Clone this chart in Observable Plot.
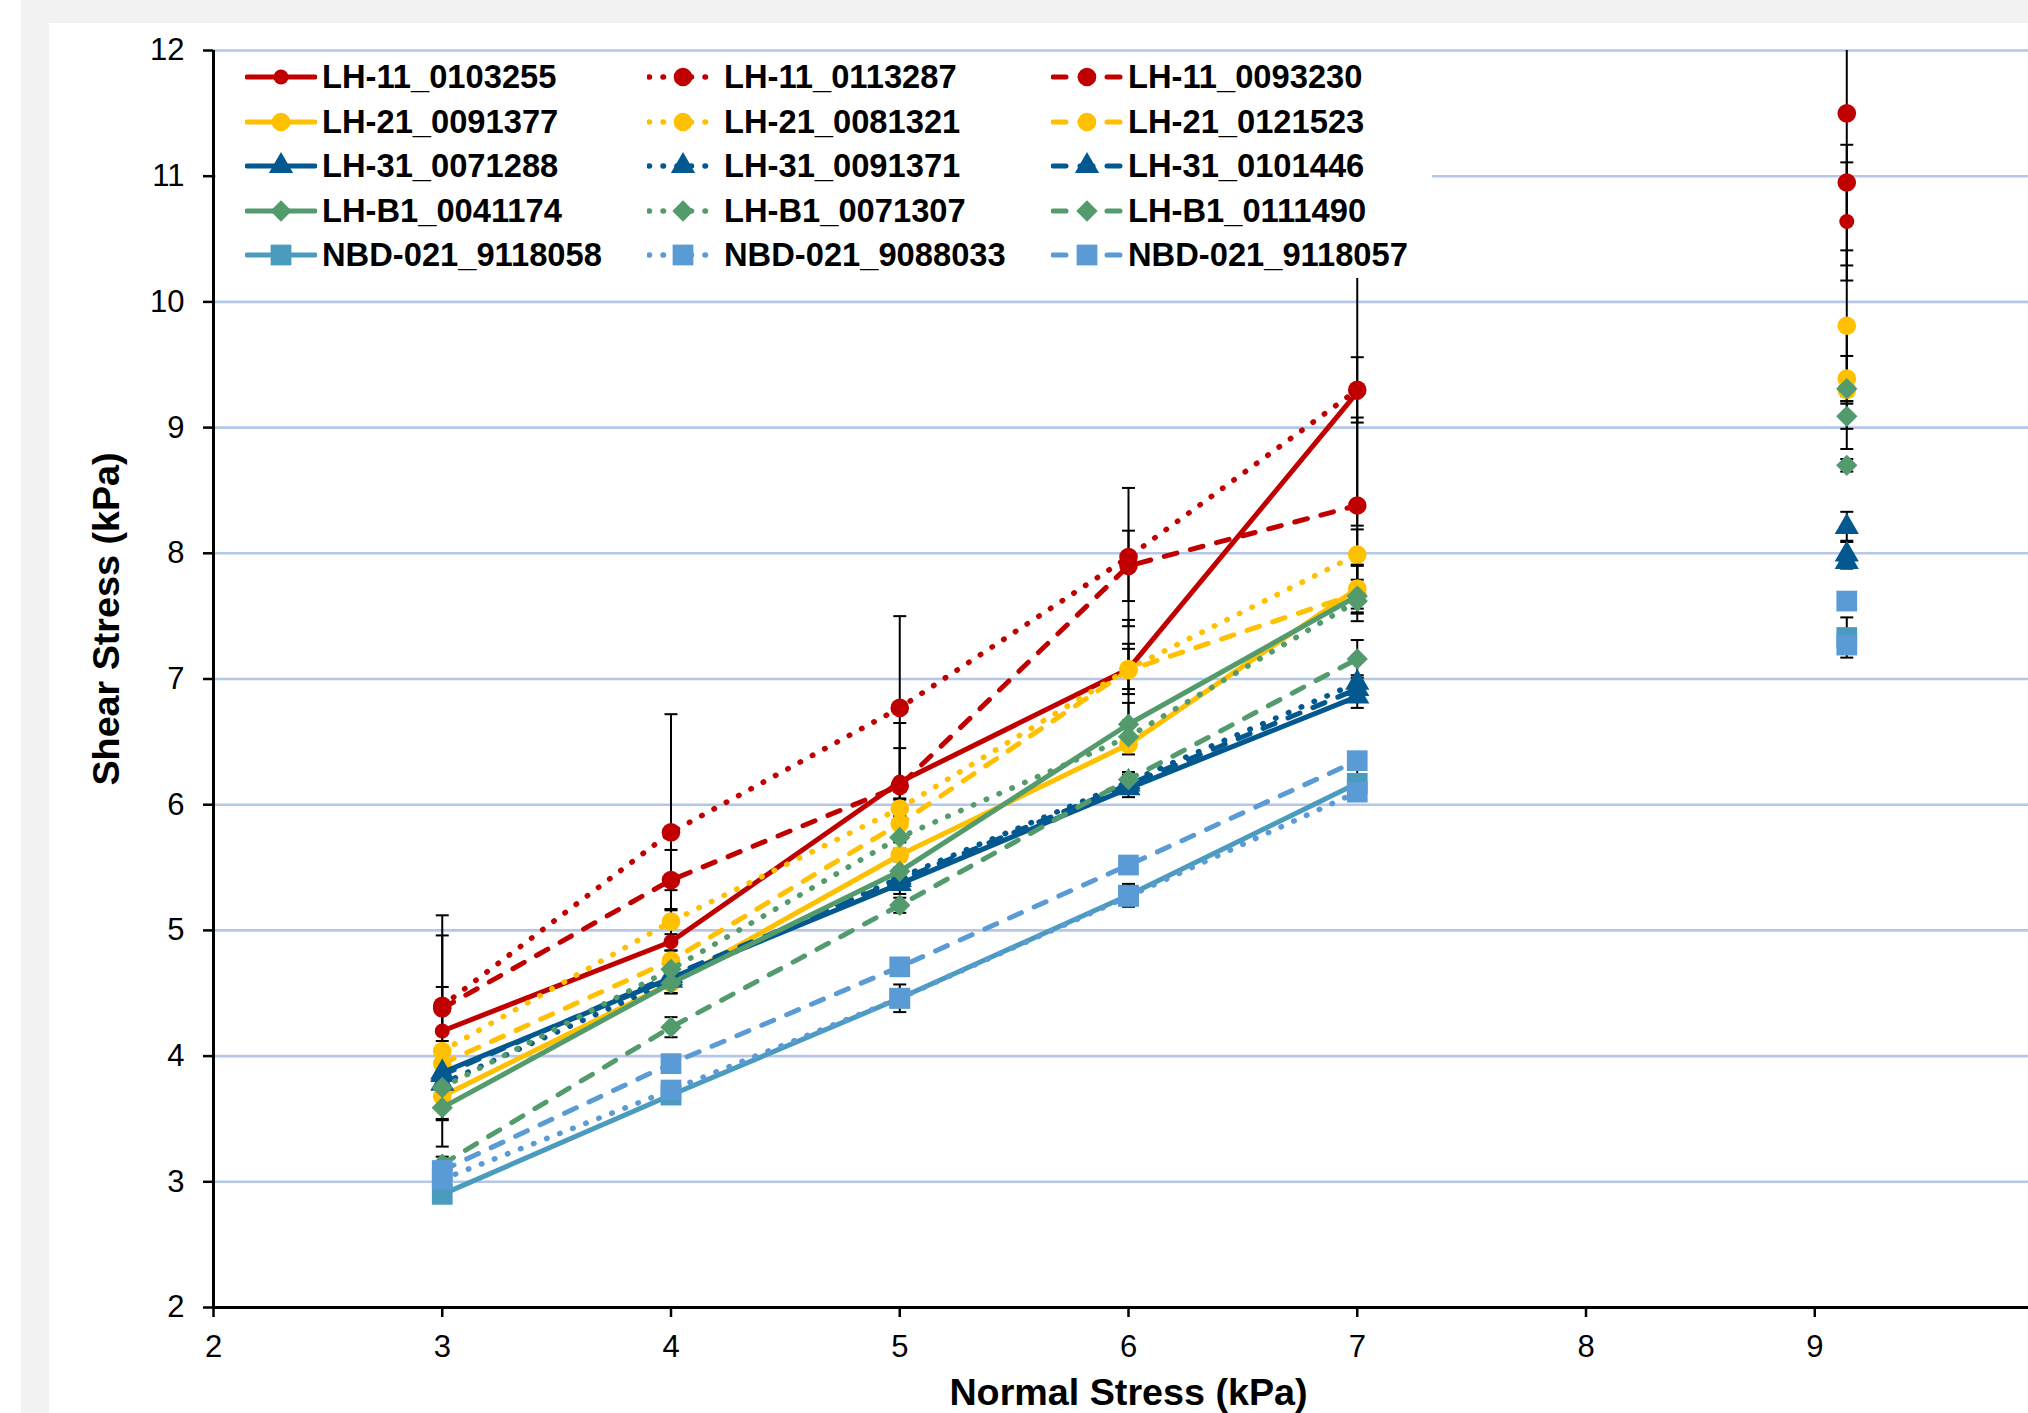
<!DOCTYPE html>
<html><head><meta charset="utf-8">
<script src="https://cdn.jsdelivr.net/npm/d3@7"></script>
<script src="https://cdn.jsdelivr.net/npm/@observablehq/plot@0.6"></script>
<style>
html,body{margin:0;padding:0;background:#fff;width:2028px;height:1413px;overflow:hidden;}
#gray{position:absolute;left:21px;top:0;width:2007px;height:1413px;background:#f2f2f2;}
#chart{position:absolute;left:49px;top:23px;width:1979px;height:1390px;background:#fff;overflow:hidden;}
#chart svg{max-width:none !important;}
#legend{position:absolute;left:216px;top:53px;width:1216px;height:225px;background:#fff;font-family:"Liberation Sans",Arial,sans-serif;font-weight:bold;font-size:32.7px;color:#000;}
.item{position:absolute;display:flex;align-items:center;height:40px;white-space:nowrap;}
.item svg{flex:none;margin-right:5px;}
</style></head>
<body>
<div id="gray"></div>
<div id="chart"></div>
<div id="legend"></div>
<script>
// ---------------- data ----------------
const xValues = [3, 4, 5, 6, 7, 9.14];
const xTicks = [2, 3, 4, 5, 6, 7, 8, 9];
const yTicks = [2, 3, 4, 5, 6, 7, 8, 9, 10, 11, 12];
const gridTicks = [3, 4, 5, 6, 7, 8, 9, 10, 11, 12];

const seriesNames = [
  "LH-11_0103255", "LH-11_0113287", "LH-11_0093230",
  "LH-21_0091377", "LH-21_0081321", "LH-21_0121523",
  "LH-31_0071288", "LH-31_0091371", "LH-31_0101446",
  "LH-B1_0041174", "LH-B1_0071307", "LH-B1_0111490",
  "NBD-021_9118058", "NBD-021_9088033", "NBD-021_9118057"
];

// shear stress (kPa) at each normal stress in xValues
const LH11_0103255 = [4.20, 4.91, 6.18, 7.08, 9.28, 10.64];
const LH11_0113287 = [4.40, 5.78, 6.77, 7.97, 9.30, 11.50];
const LH11_0093230 = [4.38, 5.40, 6.15, 7.90, 8.38, 10.95];
const LH21_0091377 = [3.68, 4.58, 5.60, 6.48, 7.72, 9.39];
const LH21_0081321 = [4.04, 5.07, 5.97, 7.08, 7.99, 9.81];
const LH21_0121523 = [3.94, 4.76, 5.85, 7.07, 7.68, 9.30];
const LH31_0071288 = [3.87, 4.62, 5.37, 6.13, 6.86, 7.93];
const LH31_0091371 = [3.78, 4.60, 5.42, 6.18, 6.97, 8.21];
const LH31_0101446 = [3.85, 4.64, 5.40, 6.16, 6.92, 7.99];
const LHB1_0041174 = [3.59, 4.58, 5.47, 6.64, 7.66, 9.09];
const LHB1_0071307 = [3.75, 4.69, 5.74, 6.54, 7.62, 9.31];
const LHB1_0111490 = [3.14, 4.23, 5.20, 6.20, 7.16, 8.70];
const NBD021_9118058 = [2.90, 3.69, 4.46, 5.28, 6.17, 7.33];
const NBD021_9088033 = [3.02, 3.73, 4.46, 5.27, 6.10, 7.27];
const NBD021_9118057 = [3.09, 3.94, 4.71, 5.52, 6.35, 7.62];

// error bar half-lengths (kPa)
const LH11_0103255_err = [0.92, 0.41, 0.27, 0.20, 1.06, 0.47];
const LH11_0113287_err = [0.56, 0.94, 0.73, 0.55, 0.26, 1.21];
const LH11_0093230_err = [0.17, 0.24, 0.50, 0.28, 0.70, 0.30];
const LH21_0091377_err = [0.18, 0.08, 0.10, 0.08, 0.19, 0.18];
const LH21_0081321_err = [0.08, 0.10, 0.08, 0.16, 0.20, 0.60];
const LH21_0121523_err = [0.06, 0.08, 0.10, 0.40, 0.22, 0.05];
const LH31_0071288_err = [0.05, 0.05, 0.08, 0.07, 0.09, 0.05];
const LH31_0091371_err = [0.05, 0.06, 0.06, 0.06, 0.06, 0.12];
const LH31_0101446_err = [0.05, 0.06, 0.06, 0.06, 0.06, 0.11];
const LHB1_0041174_err = [0.10, 0.08, 0.08, 0.17, 0.10, 0.10];
const LHB1_0071307_err = [0.06, 0.08, 0.10, 0.10, 0.10, 0.48];
const LHB1_0111490_err = [0.06, 0.08, 0.06, 0.06, 0.15, 0.05];
const NBD021_9118058_err = [0.06, 0.06, 0.11, 0.09, 0.11, 0.16];
const NBD021_9088033_err = [0.05, 0.05, 0.06, 0.08, 0.06, 0.05];
const NBD021_9118057_err = [0.05, 0.05, 0.06, 0.06, 0.06, 0.05];

const seriesValues = [LH11_0103255, LH11_0113287, LH11_0093230, LH21_0091377, LH21_0081321, LH21_0121523,
  LH31_0071288, LH31_0091371, LH31_0101446, LHB1_0041174, LHB1_0071307, LHB1_0111490,
  NBD021_9118058, NBD021_9088033, NBD021_9118057];
const seriesErrors = [LH11_0103255_err, LH11_0113287_err, LH11_0093230_err, LH21_0091377_err, LH21_0081321_err, LH21_0121523_err,
  LH31_0071288_err, LH31_0091371_err, LH31_0101446_err, LHB1_0041174_err, LHB1_0071307_err, LHB1_0111490_err,
  NBD021_9118058_err, NBD021_9088033_err, NBD021_9118057_err];

// ---------------- styles ----------------
const familyColor = ["#c00000", "#ffc000", "#03598f", "#539a6c", "#5b9bd5"];
const familySymbol = ["circle", "circle", "triangle", "diamond2", "square"];
const familyR = [9.3, 9.3, 9, 9.6, 11.7];
const lineKinds = ["solid", "dotted", "dashed"];
const dashFor = {solid: null, dotted: "0.5 13.5", dashed: "13 14"};
const widthFor = {solid: 5, dotted: 5.5, dashed: 5};
function styleOf(i) {
  const fam = Math.floor(i / 3), kind = lineKinds[i % 3];
  let color = familyColor[fam];
  if (i === 12) color = "#4b9bbf";
  let r = familyR[fam];
  if (i === 0) r = 7.5;
  return {color, kind, symbol: familySymbol[fam], r};
}

// ---------------- rows ----------------
const rows = [];
seriesNames.forEach((name, i) => {
  xValues.forEach((x, j) => rows.push({series: name, idx: i, x, y: seriesValues[i][j], err: seriesErrors[i][j]}));
});

const capSymbol = {draw(ctx) { ctx.moveTo(-6.5, 0); ctx.lineTo(6.5, 0); }};

const W = 2060, H = 1390;
const marks = [
  Plot.gridY(gridTicks, {stroke: "#b4c7e7", strokeOpacity: 1, strokeWidth: 2.6}),
  Plot.ruleX(rows, {x: "x", y1: d => d.y - d.err, y2: d => d.y + d.err, stroke: "#000", strokeWidth: 2, clip: true}),
  Plot.dot(rows, {x: "x", y: d => d.y + d.err, symbol: capSymbol, stroke: "#000", strokeWidth: 2, fill: "none", clip: true}),
  Plot.dot(rows, {x: "x", y: d => d.y - d.err, symbol: capSymbol, stroke: "#000", strokeWidth: 2, fill: "none", clip: true})
];
seriesNames.forEach((name, i) => {
  const st = styleOf(i);
  const data = rows.filter(d => d.idx === i);
  marks.push(Plot.line(data, {
    filter: d => d.x <= 7, x: "x", y: "y", stroke: st.color, strokeWidth: widthFor[st.kind],
    strokeDasharray: dashFor[st.kind], strokeLinecap: "round", strokeLinejoin: "round"
  }));
  marks.push(Plot.dot(data, {x: "x", y: "y", symbol: st.symbol, r: st.r, fill: st.color, stroke: "none"}));
});
marks.push(
  Plot.ruleX([2], {stroke: "#000", strokeWidth: 3}),
  Plot.ruleY([2], {stroke: "#000", strokeWidth: 3}),
  Plot.axisY(yTicks, {tickSize: 10, tickPadding: 19, strokeWidth: 2.5, label: null, fontSize: 31, tickFormat: d => String(d)}),
  Plot.axisX(xTicks, {tickSize: 10, tickPadding: 17, strokeWidth: 2.5, label: null, fontSize: 31, tickFormat: d => String(d)}),
  Plot.text(["Normal Stress (kPa)"], {frameAnchor: "bottom", dy: 85, lineAnchor: "middle", textAnchor: "middle", fontSize: 37.7, fontWeight: "bold"}),
  Plot.text(["Shear Stress (kPa)"], {frameAnchor: "left", dx: -107, dy: -60, rotate: -90, lineAnchor: "middle", textAnchor: "middle", fontSize: 37.7, fontWeight: "bold"})
);

const chart = Plot.plot({
  width: W, height: H,
  marginLeft: 164, marginRight: W - 1994, marginTop: 27, marginBottom: 106,
  x: {domain: [2, 10]},
  y: {domain: [2, 12]},
  style: "font-family: 'Liberation Sans', Arial, sans-serif; font-size: 31px; color: #000; background: #fff; max-width: none; overflow: visible;",
  marks
});
document.getElementById("chart").appendChild(chart);

// ---------------- legend ----------------
const d3Sym = {circle: d3.symbolCircle, triangle: d3.symbolTriangle, diamond2: d3.symbolDiamond2, square: d3.symbolSquare};
const legendColX = [29, 431, 835];
const legendRow0 = 24, legendRowStep = 44.5;
const legend = document.getElementById("legend");
seriesNames.forEach((name, i) => {
  const st = styleOf(i);
  const col = i % 3, row = Math.floor(i / 3);
  const item = document.createElement("div");
  item.className = "item";
  item.style.left = legendColX[col] + "px";
  item.style.top = (legendRow0 + row * legendRowStep - 20) + "px";
  const path = d3.symbol(d3Sym[st.symbol], Math.PI * st.r * st.r)();
  const dash = dashFor[st.kind] ? `stroke-dasharray="${dashFor[st.kind]}"` : "";
  item.innerHTML = `<svg width="72" height="40" viewBox="0 0 72 40"><line x1="2" x2="70" y1="20" y2="20" stroke="${st.color}" stroke-width="${widthFor[st.kind]}" stroke-linecap="round" ${dash}/><path d="${path}" transform="translate(36,20)" fill="${st.color}"/></svg><span>${name}</span>`;
  legend.appendChild(item);
});
</script>
</body></html>
